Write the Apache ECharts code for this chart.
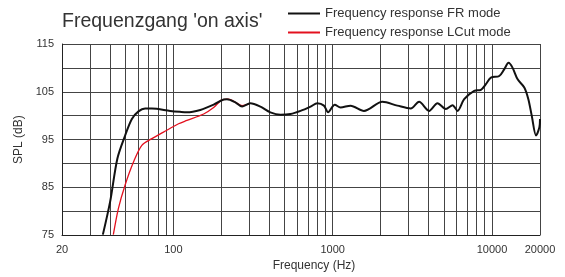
<!DOCTYPE html>
<html>
<head>
<meta charset="utf-8">
<script src="https://cdn.jsdelivr.net/npm/echarts@6/dist/echarts.min.js"></script>
<style>
  html, body { margin: 0; padding: 0; background: #fff; }
  #chart { width: 565px; height: 277px; }
</style>
</head>
<body>
<div id="chart"></div>
<script>
// FR mode curve (Hz / dB)
var frFreq = [36.1, 40.1, 44.5, 49.8, 54.9, 60.4, 66.5, 73.3, 95.5, 110, 121.7, 147.6, 179, 207, 217,
  245, 270, 304, 352, 406, 470, 543, 628, 726, 800, 881, 935, 1030, 1120, 1295, 1571, 2051, 2547,
  3089, 3484, 4026, 4547, 5132, 5653, 6069, 6686, 7730, 8515, 9150, 9840, 11100, 11920, 12700,
  13460, 14480, 15940, 16900, 17750, 18890, 19830, 20000]
var frSpl = [75.1, 82, 91, 95.85, 99.3, 100.9, 101.5, 101.5, 101.0, 100.8, 100.7, 101.2, 102.3, 103.4, 103.45,
  102.8, 101.9, 102.6, 101.9, 100.7, 100.2, 100.35, 101.0, 101.9, 102.6, 102.1, 100.7, 102.3, 101.7, 102.1, 101.0, 102.9, 102.1,
  101.5, 102.9, 101.0, 102.6, 101.4, 102.2, 101.0, 103.45, 105.2, 105.4, 106.6, 107.95, 108.3, 109.7, 111.05,
  110.0, 107.6, 105.9, 103.45, 100.0, 95.85, 97.6, 99.3]

// LCut mode curve, joins FR above ~300 Hz
var lcFreq = [42.0, 45.2, 49.8, 56.2, 63.4, 73.3, 86.7, 107.8, 121.7, 155, 179, 202, 222, 245, 270, 297]
var lcSpl = [75.1, 80.6, 85.5, 90.3, 93.8, 95.2, 96.55, 98.3, 99.0, 100.35, 101.7, 103.3, 103.45, 102.8, 102.1, 102.4]

var gridFreqs = [20, 30, 40, 50, 60, 70, 80, 90, 100, 200, 300, 400, 500, 600, 700, 800, 900,
  1000, 2000, 3000, 4000, 5000, 6000, 7000, 8000, 9000, 10000, 20000]
var xLabels = [20, 100, 1000, 10000, 20000]

var lg = Math.log10
function pts(f, s) { return f.map(function (v, i) { return [lg(v), s[i]] }) }

var chart = echarts.init(document.getElementById('chart'))
var font = 'Liberation Sans, Arial, sans-serif'

chart.setOption({
  animation: false,
  title: {
    text: "Frequenzgang 'on axis'",
    left: 57, top: 7,
    textStyle: { fontFamily: font, fontSize: 19.5, fontWeight: 'normal', color: '#333' }
  },
  legend: {
    orient: 'vertical', left: 283, top: 1,
    itemWidth: 32, itemHeight: 2, itemGap: 4,
    textStyle: { fontFamily: font, fontSize: 13, color: '#333', lineHeight: 15 },
    data: [
      { name: 'Frequency response FR mode', icon: 'rect' },
      { name: 'Frequency response LCut mode', icon: 'rect' }
    ]
  },
  grid: { left: 62, right: 25, top: 44, bottom: 40 },
  xAxis: {
    type: 'value', min: lg(20), max: lg(20000),
    name: 'Frequency (Hz)', nameLocation: 'middle', nameGap: 20,
    nameTextStyle: { fontFamily: font, fontSize: 12, color: '#333', padding: [0, 0, 0, 26] },
    axisLine: { lineStyle: { color: '#222' } },
    axisTick: { show: false, customValues: gridFreqs.map(lg) },
    axisLabel: {
      customValues: xLabels.map(lg), margin: 9,
      fontFamily: font, fontSize: 11, color: '#333',
      formatter: function (v) { return Math.round(Math.pow(10, v)) }
    },
    splitLine: { show: true, lineStyle: { color: '#444', width: 1 } }
  },
  yAxis: {
    type: 'value', min: 75, max: 115, interval: 5,
    name: 'SPL (dB)', nameLocation: 'middle', nameGap: 36,
    nameTextStyle: { fontFamily: font, fontSize: 12, color: '#333' },
    axisLine: { show: true, lineStyle: { color: '#222' } },
    axisTick: { show: false },
    axisLabel: {
      margin: 8, fontFamily: font, fontSize: 11, color: '#333',
      formatter: function (v) { return (v - 75) % 10 === 0 ? v : '' }
    },
    splitLine: { lineStyle: { color: '#444', width: 1 } }
  },
  series: [
    {
      name: 'Frequency response LCut mode', type: 'line', symbol: 'none', smooth: 0.3,
      data: pts(lcFreq, lcSpl), z: 2,
      lineStyle: { color: '#e3101e', width: 1.3 }, itemStyle: { color: '#e3101e' }
    },
    {
      name: 'Frequency response FR mode', type: 'line', symbol: 'none', smooth: 0.3,
      data: pts(frFreq, frSpl), z: 3,
      lineStyle: { color: '#111', width: 2 }, itemStyle: { color: '#111' }
    }
  ]
})
</script>
</body>
</html>
